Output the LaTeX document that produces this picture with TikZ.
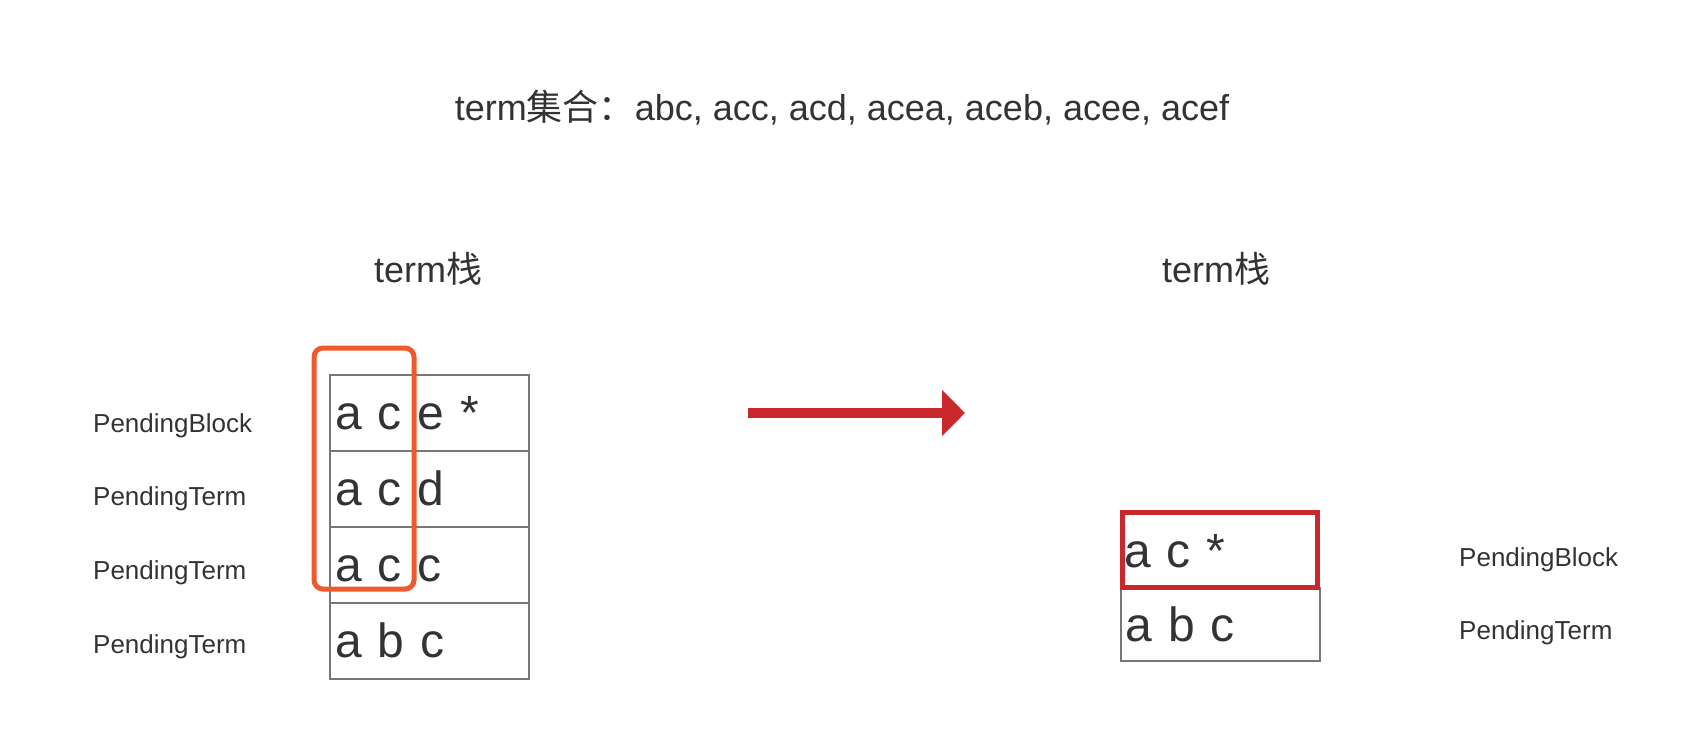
\documentclass[tikz,border=0pt]{standalone}
\usepackage{fontspec}
\setmainfont{Liberation Sans}
\newfontfamily\cjk{Noto Sans CJK SC}
\usepackage{tikz}
\usetikzlibrary{arrows.meta}
\definecolor{txtgray}{HTML}{333333}
\definecolor{linegray}{HTML}{777777}
\definecolor{hiorange}{HTML}{EE5A2C}
\definecolor{hired}{HTML}{C9282D}

\begin{document}
\begin{tikzpicture}[x=1pt, y=-1pt, text=txtgray,
    cell/.style={draw=linegray, line width=2pt, inner xsep=5pt, inner ysep=0pt,
      text width=189pt, align=left, minimum height=76pt,
      text height=34pt, text depth=0pt, font=\fontsize{48}{56}\selectfont},
    lbl/.style={anchor=west, inner sep=0pt, font=\fontsize{26}{30}\selectfont},
    head/.style={inner sep=0pt, font=\fontsize{36}{42}\selectfont}]
      \useasboundingbox (0,0) rectangle (1688,752);

      \node[head]  (title) at (842, 108)  {term{\cjk 集合：}abc, acc, acd, acea, aceb, acee, acef};
      \node[head]  (HL)    at (428, 269)  {term{\cjk 栈}};
      \node[head]  (HR)    at (1216, 269) {term{\cjk 栈}};

      % left stack
      \node[cell]  (L1)  at (429.5, 412.5)  {a c e *};
      \node[cell]  (L2)  at (429.5, 488.5)  {a c d};
      \node[cell]  (L3)  at (429.5, 564.5)  {a c c};
      \node[cell]  (L4)  at (429.5, 640.5)  {a b c};

      \node[lbl]   (PB1) at (93, 426)  {PendingBlock};
      \node[lbl]   (PT1) at (93, 499)  {PendingTerm};
      \node[lbl]   (PT2) at (93, 573)  {PendingTerm};
      \node[lbl]   (PT3) at (93, 647)  {PendingTerm};

      \node[draw=hiorange, line width=5pt, rounded corners=9pt, minimum width=100pt,
            minimum height=241pt, inner sep=0pt] (common) at (364, 468.5) {};

      % arrow
      \coordinate (A) at (748, 413);
      \coordinate (B) at (965, 413);
      \draw[hired, line width=10pt, -{Triangle[length=23pt, width=45pt]}] (A) -- (B);

      % right stack
      \node[cell, minimum height=73pt]  (R2)  at (1220, 624)  {a b c};
      \node[cell, draw=hired, line width=5pt, inner xsep=2pt, text width=191.5pt, minimum height=75pt]
            (R1)  at (1220, 550)  {a c *};

      \node[lbl]   (PB2) at (1459, 560)  {PendingBlock};
      \node[lbl]   (PT4) at (1459, 633)  {PendingTerm};
\end{tikzpicture}
\end{document}
